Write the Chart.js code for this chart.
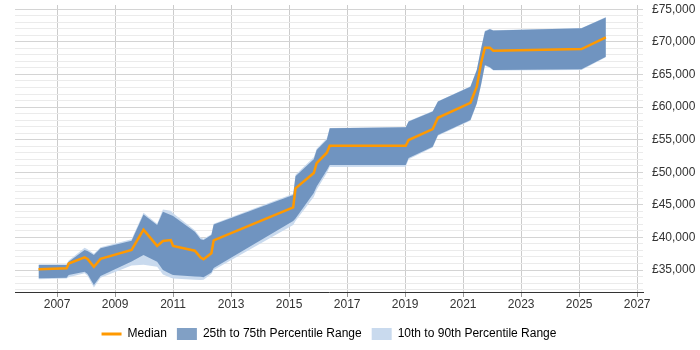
<!DOCTYPE html>
<html>
<head>
<meta charset="utf-8">
<script src="https://cdn.jsdelivr.net/npm/chart.js@4.4.1/dist/chart.umd.min.js"></script>
<style>
  html, body { margin: 0; padding: 0; background: #fff; }
  canvas { display: block; }
</style>
</head>
<body>
<canvas id="salaryChart" width="700" height="350"></canvas>
<script>
// time points (decimal years) and percentile values
const years = [2006.36, 2007.33, 2007.40, 2007.95, 2008.05, 2008.27, 2008.50, 2009.57, 2009.98, 2010.45,
  2010.65, 2010.92, 2011.00, 2011.75, 2011.95, 2012.05, 2012.32, 2012.40, 2015.14, 2015.22,
  2015.85, 2015.95, 2016.30, 2016.40, 2019.02, 2019.12, 2019.95, 2020.13, 2021.25, 2021.47,
  2021.62, 2021.75, 2021.92, 2022.04, 2025.08, 2025.92];

const median = [35100, 35250, 36000, 36950, 36700, 35500, 36700, 38070, 41200, 38700,
  39450, 39600, 38700, 37960, 36900, 36640, 37560, 39550, 44620, 47530,
  49880, 51400, 53000, 54070, 54070, 54940, 56630, 58360, 60660, 63120,
  66800, 69100, 69100, 68640, 68900, 70700];

const p75 = [35770, 35770, 36280, 38070, 37900, 37300, 38330, 39500, 43500, 41900,
  43950, 43440, 43300, 40880, 39700, 39600, 40370, 42000, 46500, 49400,
  52000, 53400, 55000, 56740, 56890, 57780, 59320, 60850, 63120, 65680,
  69000, 71600, 71930, 71730, 72080, 73750];

const p25 = [33730, 33800, 34230, 34740, 34400, 32700, 34080, 36300, 37300, 36280,
  35000, 34400, 34230, 34000, 33970, 33900, 34600, 35300, 42500, 42900,
  46800, 47800, 50300, 51110, 51110, 52200, 53910, 55710, 58010, 60570,
  63500, 66450, 66090, 65680, 65790, 67720];

const p90 = [35900, 35900, 36450, 38400, 38200, 37500, 38500, 39700, 43800, 42100,
  44300, 44100, 43700, 41100, 40000, 39800, 40500, 42100, 46700, 49600,
  52300, 53600, 55200, 56800, 56950, 57850, 59400, 60900, 63200, 65750,
  69100, 71700, 72000, 71800, 72150, 73800];

const p10 = [33600, 33700, 33900, 34500, 34100, 32300, 33800, 35700, 35800, 35500,
  34300, 33800, 33700, 33500, 33450, 33500, 34400, 35000, 41900, 42500,
  46200, 47300, 49900, 50800, 50850, 52000, 53800, 55600, 57900, 60450,
  63400, 66350, 66000, 65600, 65700, 67650];

const xTickYears = [2007, 2009, 2011, 2013, 2015, 2017, 2019, 2021, 2023, 2025, 2027];
const yTickValues = [35000, 40000, 45000, 50000, 55000, 60000, 65000, 70000, 75000];

// minor grid every 1000 between the labelled ticks
const yGridValues = [];
for (let v = 32000; v <= 75000; v += 1000) yGridValues.push(v);

const MEDIAN_COLOR = '#ff9900';
const IQR_COLOR = 'rgba(70,115,170,0.68)';
const WIDE_COLOR = '#c9daee';

const toPoints = (vals) => years.map((x, i) => ({ x: x, y: vals[i] }));

const fmtPounds = (v) => '£' + String(v).replace(/\B(?=(\d{3})+(?!\d))/g, ',');

Chart.defaults.font.family = "'Liberation Sans', Arial, sans-serif";
Chart.defaults.font.size = 12;
Chart.defaults.color = '#333';

new Chart(document.getElementById('salaryChart'), {
  type: 'line',
  data: {
    datasets: [
      {
        label: 'Median',
        data: toPoints(median),
        borderColor: MEDIAN_COLOR,
        borderWidth: 2.5,
        fill: false
      },
      {
        label: '25th to 75th Percentile Range',
        data: toPoints(p75),
        borderColor: 'transparent',
        borderWidth: 0,
        backgroundColor: IQR_COLOR,
        fill: 2
      },
      {
        label: 'p25',
        data: toPoints(p25),
        borderColor: 'transparent',
        borderWidth: 0,
        fill: false
      },
      {
        label: '10th to 90th Percentile Range',
        data: toPoints(p90),
        borderColor: 'transparent',
        borderWidth: 0,
        backgroundColor: WIDE_COLOR,
        fill: 4
      },
      {
        label: 'p10',
        data: toPoints(p10),
        borderColor: 'transparent',
        borderWidth: 0,
        fill: false
      }
    ]
  },
  options: {
    responsive: false,
    animation: false,
    layout: { padding: { left: 15, top: 5, right: 0, bottom: 0 } },
    elements: {
      point: { radius: 0 },
      line: { tension: 0 }
    },
    scales: {
      x: {
        type: 'linear',
        min: 2005.55,
        max: 2027.2,
        afterBuildTicks: (s) => { s.ticks = xTickYears.map((v) => ({ value: v })); },
        afterFit: (s) => { s.height = 26; s.paddingLeft = 0; s.paddingRight = 0; },
        grid: { color: '#cccccc', tickLength: 5, tickColor: '#999' },
        border: { color: '#333', width: 1 },
        ticks: {
          padding: 0,
          autoSkip: false,
          maxRotation: 0,
          callback: (v) => String(v)
        }
      },
      y: {
        position: 'right',
        min: 31625,
        max: 75660,
        afterBuildTicks: (s) => { s.ticks = yGridValues.map((v) => ({ value: v })); },
        afterFit: (s) => { s.width = 57; s.paddingTop = 0; s.paddingBottom = 0; },
        grid: {
          drawTicks: false,
          color: (c) => (c.tick && yTickValues.includes(c.tick.value) ? '#d4d4d4' : '#ebebeb')
        },
        border: { display: false },
        ticks: {
          padding: 9,
          autoSkip: false,
          callback: (v) => (yTickValues.includes(v) ? fmtPounds(v) : '')
        }
      }
    },
    plugins: {
      tooltip: { enabled: false },
      legend: {
        position: 'bottom',
        fullSize: false,
        labels: {
          usePointStyle: true,
          pointStyleWidth: 20,
          boxHeight: 12,
          padding: 10,
          color: '#333',
          generateLabels: () => [
            { text: 'Median', pointStyle: 'line', strokeStyle: MEDIAN_COLOR, fillStyle: MEDIAN_COLOR, lineWidth: 3, datasetIndex: 0 },
            { text: '25th to 75th Percentile Range', pointStyle: 'rect', strokeStyle: 'transparent', fillStyle: IQR_COLOR, lineWidth: 0, datasetIndex: 1 },
            { text: '10th to 90th Percentile Range', pointStyle: 'rect', strokeStyle: 'transparent', fillStyle: WIDE_COLOR, lineWidth: 0, datasetIndex: 3 }
          ]
        }
      }
    }
  }
});
</script>
</body>
</html>
